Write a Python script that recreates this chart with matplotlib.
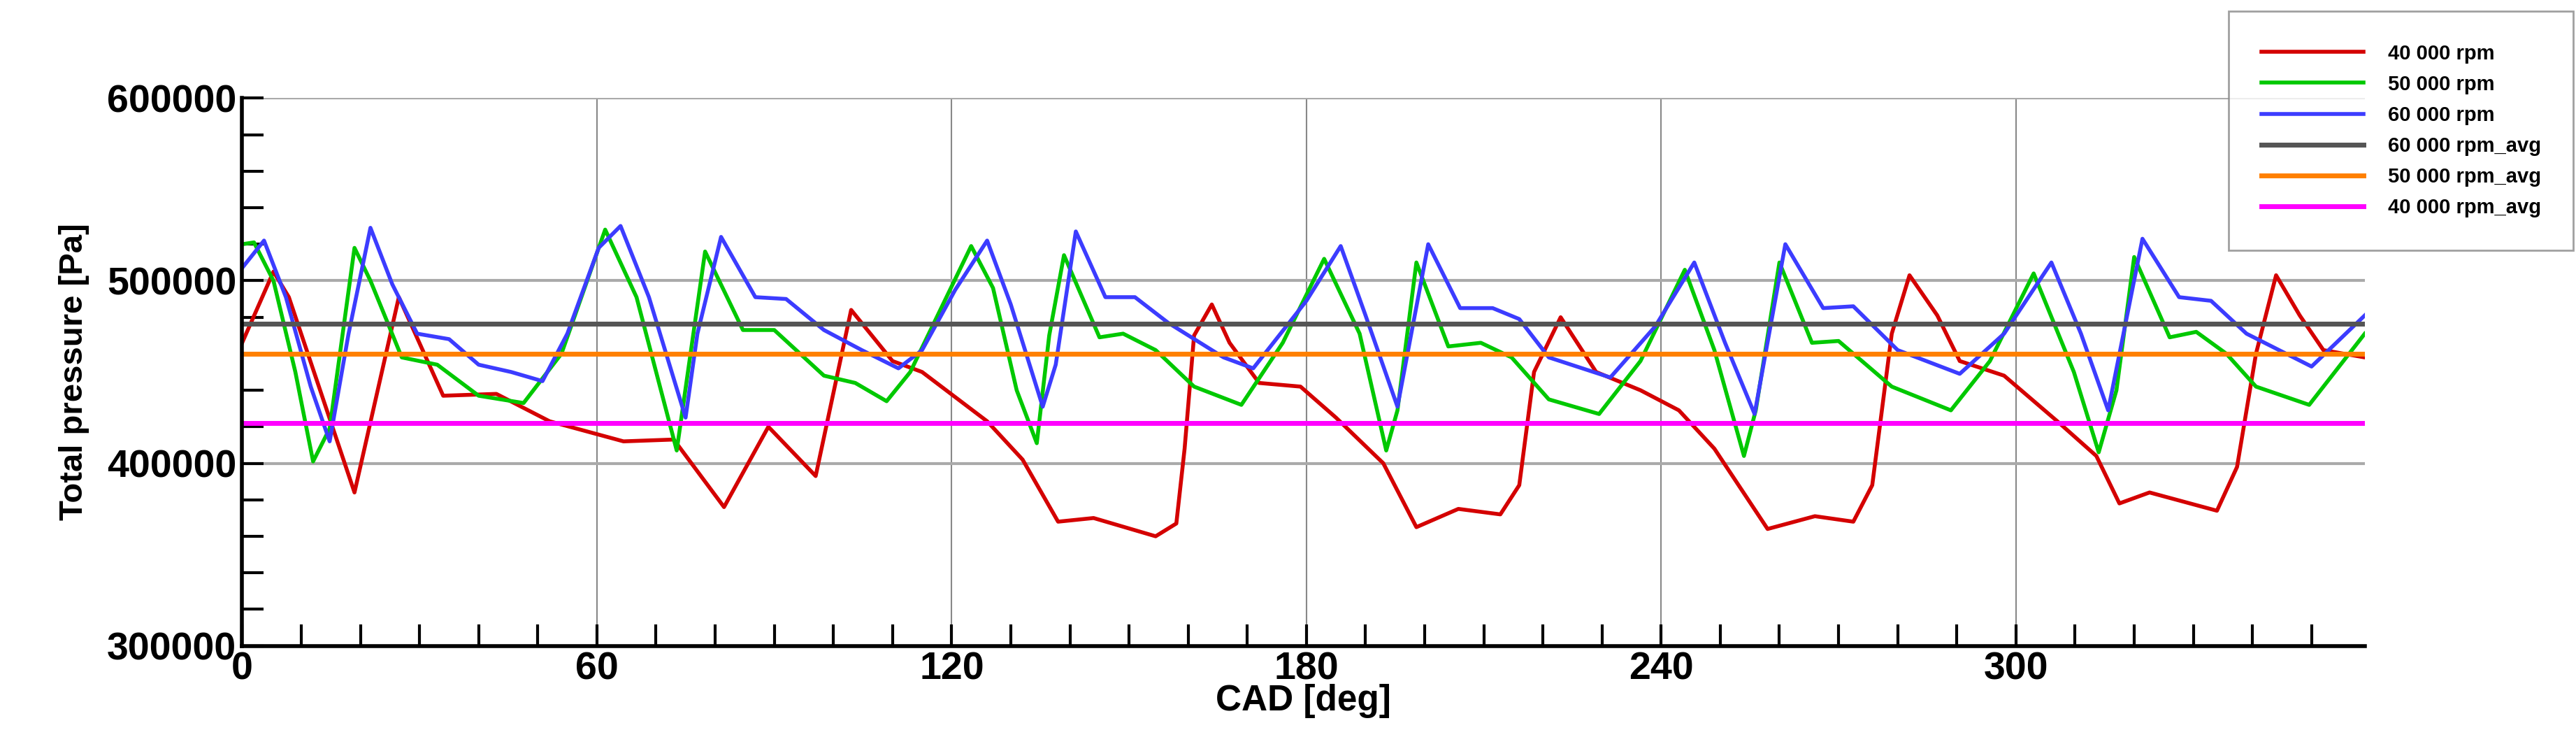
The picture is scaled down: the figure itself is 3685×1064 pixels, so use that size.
import numpy as np
import matplotlib.pyplot as plt
from matplotlib.ticker import MultipleLocator

plt.rcParams['font.family'] = ['Liberation Sans', 'DejaVu Sans']

# Puntos (CAD [deg], presion [Pa])
cad_40 = [0, 5.3, 7.9, 19, 26.5, 34, 43, 52, 64.5, 73, 81.5, 89, 97, 103, 110, 115, 126, 132, 138,
          144, 154.5, 158, 159.4, 161, 164, 167, 172, 179, 185, 193, 198.6, 205.7, 212.8, 216, 218.5,
          223, 229, 236.5, 243, 249, 258, 266, 272.5, 275.7, 279, 282, 286.7, 290.5, 298, 307, 313.6,
          317.5, 322.6, 334, 337.4, 340.6, 344, 348, 352, 359]
p_40 = [466e3, 505e3, 491e3, 384e3, 491e3, 437e3, 438e3, 423e3, 412e3, 413e3, 376e3, 420e3, 393e3,
        484e3, 456e3, 450e3, 423e3, 402e3, 368e3, 370e3, 360e3, 367e3, 408e3, 470e3, 487e3, 466e3,
        444e3, 442e3, 425e3, 400e3, 365e3, 375e3, 372e3, 388e3, 450e3, 480e3, 450e3, 440e3, 429e3,
        408e3, 364e3, 371e3, 368e3, 388e3, 471e3, 503e3, 481e3, 456e3, 448e3, 423e3, 404e3, 378e3,
        384e3, 374e3, 398e3, 460e3, 503e3, 481e3, 462e3, 458e3]

cad_50 = [0, 2, 5.3, 9, 12, 14.8, 19, 21.7, 27, 33, 40, 47.6, 54, 61.4, 66.7, 73.5, 78.3, 84.7, 90,
          98.4, 103.7, 109, 113, 123.3, 127, 131, 134.4, 136.5, 139, 145, 149, 154.5, 161, 169, 176,
          183, 189, 193.5, 195.4, 198.6, 204, 209.5, 214.7, 221, 229.5, 236.5, 244, 249, 254, 256,
          260, 265.5, 270, 279, 289, 295.6, 303, 309.8, 314, 317, 320, 326, 330.5, 335.6, 340.6,
          349.6, 359]
p_50 = [520e3, 521e3, 500e3, 450e3, 401e3, 419e3, 518e3, 500e3, 458e3, 454e3, 437e3, 433e3, 460e3,
        528e3, 491e3, 407e3, 516e3, 473e3, 473e3, 448e3, 444e3, 434e3, 450e3, 519e3, 496e3, 440e3,
        411e3, 470e3, 514e3, 469e3, 471e3, 462e3, 442e3, 432e3, 466e3, 512e3, 471e3, 407e3, 429e3,
        510e3, 464e3, 466e3, 458e3, 435e3, 427e3, 456e3, 506e3, 462e3, 404e3, 429e3, 510e3, 466e3,
        467e3, 442e3, 429e3, 456e3, 504e3, 450e3, 406e3, 440e3, 513e3, 469e3, 472e3, 460e3, 442e3,
        432e3, 471e3]

cad_60 = [0, 3.7, 7.4, 11.6, 14.8, 18, 21.7, 25.4, 29.6, 35, 40, 45.5, 50.8, 55, 60.3, 64, 68.8, 75,
          77, 81, 86.8, 92, 98.4, 104.8, 111, 115, 120.6, 126, 130, 135.4, 137.6, 141, 146, 151,
          156.6, 164.5, 166, 171, 180, 185.8, 190, 195.4, 200.6, 206, 211.5, 216, 221, 231.4, 239,
          245.6, 250.8, 255.8, 261, 267.4, 272.5, 280, 290.5, 298, 306, 311, 315.6, 321.4, 327.6,
          333, 339, 350, 359]
p_60 = [507e3, 522e3, 491e3, 442e3, 412e3, 471e3, 529e3, 498e3, 471e3, 468e3, 454e3, 450e3, 445e3,
        471e3, 518e3, 530e3, 491e3, 425e3, 471e3, 524e3, 491e3, 490e3, 473e3, 462e3, 452e3, 462e3,
        495e3, 522e3, 487e3, 431e3, 454e3, 527e3, 491e3, 491e3, 477e3, 461e3, 458e3, 452e3, 489e3,
        519e3, 481e3, 431e3, 520e3, 485e3, 485e3, 479e3, 458e3, 447e3, 475e3, 510e3, 466e3, 427e3,
        520e3, 485e3, 486e3, 462e3, 449e3, 471e3, 510e3, 471e3, 429e3, 523e3, 491e3, 489e3, 471e3,
        453e3, 481e3]

avg_60 = 476500
avg_50 = 460000
avg_40 = 422000

fig = plt.figure(figsize=(36.85, 10.64), dpi=100)
ax = fig.add_axes([0.094, 0.132, 0.824, 0.736])

l1, = ax.plot(cad_40, p_40, color='#d40000', lw=4, label='40 000 rpm')
l2, = ax.plot(cad_50, p_50, color='#00c800', lw=4, label='50 000 rpm')
l3, = ax.plot(cad_60, p_60, color='#3c3cff', lw=4, label='60 000 rpm')
l4 = ax.axhline(avg_60, color='#555555', lw=5, label='60 000 rpm_avg')
l5 = ax.axhline(avg_50, color='#ff8000', lw=5, label='50 000 rpm_avg')
l6 = ax.axhline(avg_40, color='#ff00ff', lw=5, label='40 000 rpm_avg')

ax.set_xlim(0, 359)
ax.set_ylim(300000, 600000)
ax.xaxis.set_major_locator(MultipleLocator(60))
ax.xaxis.set_minor_locator(MultipleLocator(10))
ax.yaxis.set_major_locator(MultipleLocator(100000))
ax.yaxis.set_minor_locator(MultipleLocator(20000))
ax.grid(True, which='major', axis='x', color='#888888', lw=1.5)
ax.grid(True, which='major', axis='y', color='#aaaaaa', lw=3)
ax.set_axisbelow(True)
ax.tick_params(which='both', direction='in', width=3, color='black')
ax.tick_params(which='major', length=22, labelsize=40, pad=6)
ax.tick_params(which='minor', length=22)
for lab in ax.get_xticklabels() + ax.get_yticklabels():
    lab.set_fontweight('bold')
for s in ['top', 'right']:
    ax.spines[s].set_visible(False)
for s in ['left', 'bottom']:
    ax.spines[s].set_linewidth(4)

ax.set_xlabel('CAD [deg]', fontsize=37, fontweight='bold', labelpad=-4)
ax.set_ylabel('Total pressure [Pa]', fontsize=34, fontweight='bold', labelpad=18)

leg = fig.legend(handles=[l1, l2, l3, l4, l5, l6], loc='upper right',
                 bbox_to_anchor=(0.999, 0.985), prop={'weight': 'bold', 'size': 21},
                 frameon=True, fancybox=False, edgecolor='#888888', handlelength=5,
                 borderpad=1.6, labelspacing=0.55, borderaxespad=0, handletextpad=1.2)
leg.get_frame().set_linewidth(2)

fig.savefig('out.png', dpi=100)
